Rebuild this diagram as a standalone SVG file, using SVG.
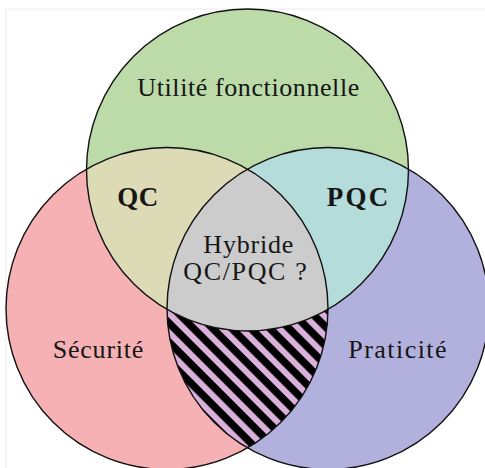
<svg xmlns="http://www.w3.org/2000/svg" width="485" height="468" viewBox="0 0 485 468">
  <style>
    .lbl { font-family: "Liberation Serif", "Times New Roman", serif; font-size: 26px; fill: #161616; }
    .bold { font-weight: bold; font-size: 27px; }
    .outline { fill: none; stroke: #111; stroke-width: 1.4; }
  </style>
  <defs>
    <clipPath id="clipL"><circle cx="167" cy="308.5" r="161"/></clipPath>
    <clipPath id="clipR"><circle cx="328" cy="308.5" r="161"/></clipPath>
    <pattern id="hatch" patternUnits="userSpaceOnUse" width="20" height="13.5" patternTransform="rotate(45)">
      <rect x="0" y="0" width="20" height="13.5" fill="#dab1da"/>
      <rect x="0" y="0" width="20" height="4.63" fill="#000"/>
      <rect x="0" y="10.63" width="20" height="2.87" fill="#000"/>
    </pattern>
  </defs>
  <rect width="485" height="468" fill="#fff"/>
  <path d="M6 468 V9 H485" fill="none" stroke="#ececec" stroke-width="1"/>

  <g id="node-securite">
    <circle cx="167" cy="308.5" r="161" fill="#f5b1b4"/>
  </g>
  <g id="node-praticite">
    <circle cx="328" cy="308.5" r="161" fill="#b2b0dc"/>
  </g>
  <g id="node-utilite">
    <circle cx="247.5" cy="170" r="161" fill="#bcdba9"/>
  </g>

  <g id="overlaps">
    <circle id="region-qc" cx="247.5" cy="170" r="161" fill="#dcdbb5" clip-path="url(#clipL)"/>
    <circle id="region-pqc" cx="247.5" cy="170" r="161" fill="#b4dcdb" clip-path="url(#clipR)"/>
    <circle id="region-hatched" cx="167" cy="308.5" r="161" fill="url(#hatch)" clip-path="url(#clipR)"/>
    <g id="region-hybride" clip-path="url(#clipR)">
      <circle cx="247.5" cy="170" r="161" fill="#cccccc" clip-path="url(#clipL)"/>
    </g>
  </g>

  <g id="outlines">
    <circle class="outline" cx="167" cy="308.5" r="161"/>
    <circle class="outline" cx="328" cy="308.5" r="161"/>
    <circle class="outline" cx="247.5" cy="170" r="161"/>
  </g>

  <g id="labels">
    <text class="lbl" x="137.3" y="96" textLength="222" lengthAdjust="spacing">Utilité fonctionnelle</text>
    <text class="lbl bold" x="117.3" y="206" textLength="41" lengthAdjust="spacing">QC</text>
    <text class="lbl bold" x="326.7" y="206" textLength="61.6" lengthAdjust="spacing">PQC</text>
    <text class="lbl" x="203.3" y="253.3" textLength="90" lengthAdjust="spacing">Hybride</text>
    <text class="lbl" x="183.3" y="280" textLength="123.4" lengthAdjust="spacing">QC/PQC ?</text>
    <text class="lbl" x="52.7" y="358" textLength="90.7" lengthAdjust="spacing">Sécurité</text>
    <text class="lbl" x="348.3" y="358" textLength="98.3" lengthAdjust="spacing">Praticité</text>
  </g>
</svg>
